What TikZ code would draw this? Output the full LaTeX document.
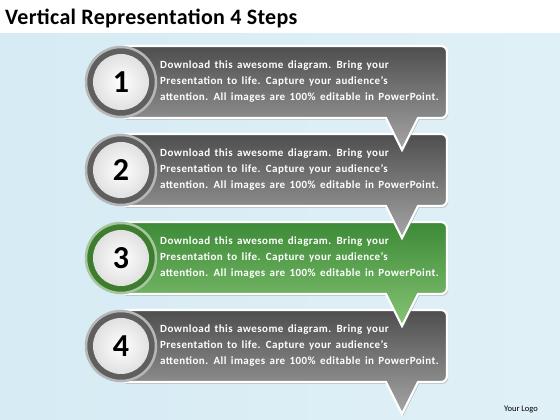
\documentclass[tikz,border=0pt]{standalone}
\usepackage{fontspec}
\setmainfont{Carlito}
\newfontfamily\stepfont{Carlito}[LetterSpace=4,WordSpace=1.5]
\newfontfamily\titlefont{Carlito}[LetterSpace=1.5]
\usetikzlibrary{shadows}

\definecolor{bgblue}{HTML}{D6EBF4}
\definecolor{graytop}{HTML}{4E4E4E}
\definecolor{graybot}{HTML}{A6A6A6}
\definecolor{grayring}{HTML}{5F5F5F}
\definecolor{greentop}{HTML}{3C8A37}
\definecolor{greenbot}{HTML}{86C474}
\definecolor{greenring}{HTML}{3E7D2E}

\begin{document}
\begin{tikzpicture}[x=1pt,y=1pt,
  panelgray/.style={top color=graytop,bottom color=graybot,draw=white,line width=2.2pt,
    drop shadow={opacity=0.4,shadow xshift=1.2pt,shadow yshift=-1.8pt}},
  panelgreen/.style={top color=greentop,bottom color=greenbot,draw=white,line width=2.2pt,
    drop shadow={opacity=0.4,shadow xshift=1.2pt,shadow yshift=-1.8pt}},
  stepring/.style={circle,minimum size=70pt,inner sep=0pt,draw=#1!45,line width=2.5pt,fill=#1},
  stepnum/.style={circle,minimum size=56pt,inner sep=0pt,inner color=white,outer color=black!12,
    font=\bfseries\fontsize{32}{32}\selectfont},
  steptext/.style={anchor=west,align=left,inner sep=0pt,text=white,
    font=\stepfont\bfseries\fontsize{11}{16}\selectfont}]
  \useasboundingbox (0,0) rectangle (560,420);
  \shade[left color=bgblue,middle color=bgblue!20,right color=bgblue!75] (0,0) rectangle (560,387);
  \fill[white] (0,387) rectangle (560,420);
  \node[anchor=base west,inner sep=0pt,font=\titlefont\bfseries\fontsize{22}{22}\selectfont] (title) at (5,395)
    {Vertical Representation 4 Steps};
  \node[font=\fontsize{8.5}{9}\selectfont] (logo) at (521,10) {Your Logo};
  % steps, drawn from the bottom up so each pointer lies over the next panel
  \foreach \i/\top/\col in {4/110/gray,3/198/green,2/286/gray,1/374/gray}{
    \path[panel\col] [rounded corners=6pt] (120,\top) -- (447,\top) -- (447,\top-72)
      [sharp corners] -- (418,\top-72) -- (402,\top-104) -- (386,\top-72)
      [rounded corners=6pt] -- (120,\top-72) -- cycle;
    \node[stepring=\col ring] (r\i) at (121,\top-36) {};
    \node[stepnum] (c\i) at (r\i) {\i};
    \node[steptext] (t\i) at (160,\top-36)
      {Download this awesome diagram. Bring your\\Presentation to life. Capture your audience’s\\
       attention. All images are 100\% editable in PowerPoint.};
  }
\end{tikzpicture}
\end{document}
